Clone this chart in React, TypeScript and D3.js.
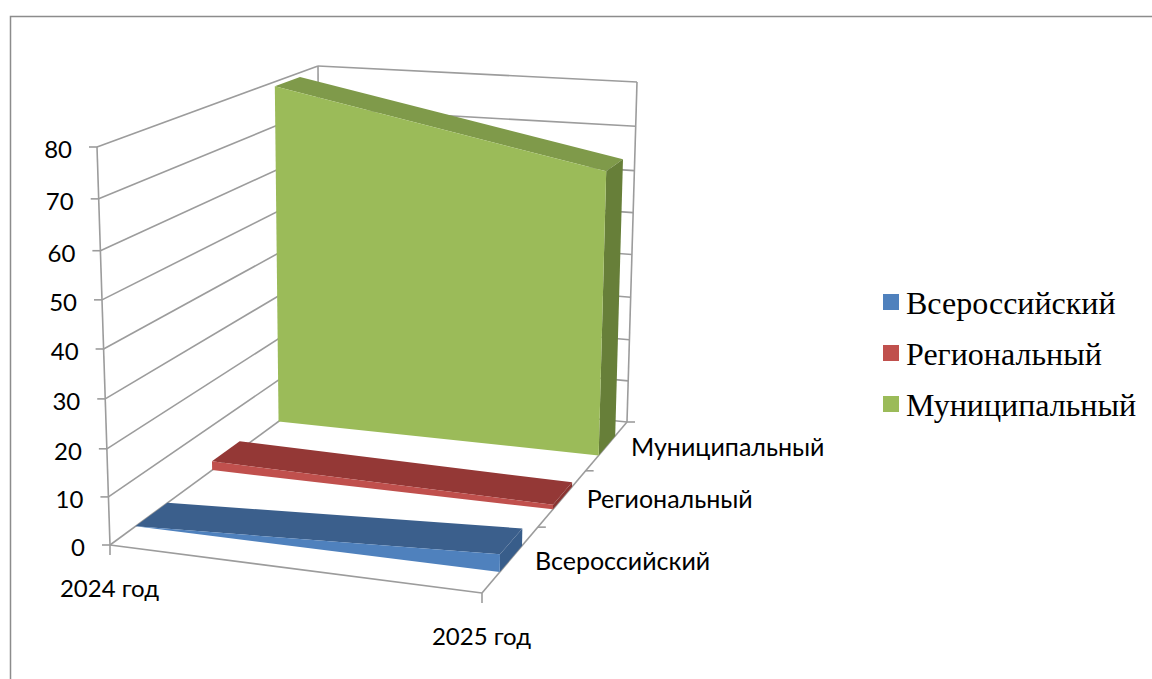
import React from 'react'
import * as d3 from 'd3'

const categories = ['2024 год', '2025 год']
const seriesNames = ['Всероссийский', 'Региональный', 'Муниципальный']
const vserossiyskiy = [0, 3.6]
const regionalny = [2, 1]
const municipalny = [79, 64.5]
const seriesValues = [vserossiyskiy, regionalny, municipalny]
const valueTicks = [0, 10, 20, 30, 40, 50, 60, 70, 80]

const frontColors = ['#4f81bd', '#c0504d', '#9bbb59']
const topColors = ['#3b5f8c', '#943836', '#7f9a4a']
const sideColors = ['#385d8a', '#8a3431', '#677f39']
const gridColor = '#9c9c9c'
const axisFont = 'Lato, "Open Sans", sans-serif'
const legendFont = '"Liberation Serif", serif'

type Pt = [number, number]

// maps the unit square onto a quad: (0,0) a, (1,0) b, (1,1) c, (0,1) d
function quadMap(a: Pt, b: Pt, c: Pt, d: Pt) {
  const dx1 = b[0] - c[0], dx2 = d[0] - c[0], sx = a[0] - b[0] + c[0] - d[0]
  const dy1 = b[1] - c[1], dy2 = d[1] - c[1], sy = a[1] - b[1] + c[1] - d[1]
  const den = dx1 * dy2 - dx2 * dy1
  const g = (sx * dy2 - dx2 * sy) / den
  const h = (dx1 * sy - sx * dy1) / den
  return (u: number, v: number): Pt => {
    const w = g * u + h * v + 1
    return [
      ((b[0] - a[0] + g * b[0]) * u + (d[0] - a[0] + h * d[0]) * v + a[0]) / w,
      ((b[1] - a[1] + g * b[1]) * u + (d[1] - a[1] + h * d[1]) * v + a[1]) / w,
    ]
  }
}

// floor and ceiling of the 3d box
const floor = quadMap([110, 545], [482, 593], [627, 422], [320, 391])
const ceiling = quadMap([97, 147], [488, 172], [637, 82], [318, 66])

const xScale = d3.scalePoint<string>().domain(categories).range([0, 1])
const zBand = d3.scaleBand<string>().domain(seriesNames).range([0, 1]).paddingInner(0.6).paddingOuter(0.3)
const zEdge = d3.scaleLinear().domain([0, seriesNames.length]).range([0, 1])
// the value axis stretches a little towards the top (perspective)
const vScale = d3.scaleLinear().domain([0, 20, 40, 60, 80]).range([0, 0.2417, 0.4925, 0.7394, 1])

function project(x: number, z: number, value: number): Pt {
  const b = floor(x, z)
  const t = ceiling(x, z)
  const k = vScale(value)
  return [b[0] + (t[0] - b[0]) * k, b[1] + (t[1] - b[1]) * k]
}

const poly = (pts: Pt[]) => d3.line()(pts) + 'Z'
const seg = (a: Pt, b: Pt) => d3.line()([a, b]) as string

export default function App() {
  const x0 = xScale(categories[0]) as number
  const x1 = xScale(categories[1]) as number

  return (
    <svg width={1152} height={679} style={{ position: 'absolute', left: 0, top: 0, background: '#fff' }}>
      {/* chart border, cut off by the picture on the right and bottom */}
      <path d="M10.5,679V16.5H1152" fill="none" stroke="#8c8c8c" strokeWidth={1.5} />

      {/* walls */}
      <g fill="none" stroke={gridColor} strokeWidth={1.6}>
        {valueTicks.map(v => (
          <g key={v}>
            <path d={seg(project(0, 0, v), project(0, 1, v))} />
            <path d={seg(project(0, 1, v), project(1, 1, v))} />
            <path d={seg(project(0, 0, v), [project(0, 0, v)[0] - 8, project(0, 0, v)[1]])} />
          </g>
        ))}
        <path d={seg(project(0, 0, 0), project(0, 0, 80))} />
        <path d={seg(project(0, 1, 0), project(0, 1, 80))} />
        <path d={seg(project(1, 1, 0), project(1, 1, 80))} />
        <path d={seg(project(0, 0, 0), project(1, 0, 0))} />
        <path d={seg(project(1, 0, 0), project(1, 1, 0))} />
        {categories.map(c => {
          const p = project(xScale(c) as number, 0, 0)
          return <path key={c} d={seg(p, [p[0], p[1] + 10])} />
        })}
        {d3.range(1, seriesNames.length + 1).map(i => {
          const p = project(1, zEdge(i), 0)
          return <path key={i} d={seg(p, [p[0] + 8, p[1]])} />
        })}
      </g>

      {/* series, back to front */}
      {seriesNames.map((name, i) => ({ name, i })).reverse().map(({ name, i }) => {
        const [a, b] = seriesValues[i]
        const zf = zBand(name) as number
        const zb = zf + zBand.bandwidth()
        return (
          <g key={name}>
            <path d={poly([project(x0, zf, a), project(x1, zf, b), project(x1, zb, b), project(x0, zb, a)])} fill={topColors[i]} />
            <path d={poly([project(x1, zf, 0), project(x1, zf, b), project(x1, zb, b), project(x1, zb, 0)])} fill={sideColors[i]} />
            <path d={poly([project(x0, zf, 0), project(x0, zf, a), project(x1, zf, b), project(x1, zf, 0)])} fill={frontColors[i]} />
          </g>
        )
      })}

      {/* axis labels */}
      <g fontFamily={axisFont} fontSize={24} fill="#000">
        {valueTicks.map(v => {
          const p = project(0, 0, v)
          return <text key={v} x={p[0] - 25} y={p[1] + 11} textAnchor="end">{v}</text>
        })}
        {categories.map(c => {
          const p = project(xScale(c) as number, 0, 0)
          return <text key={c} x={p[0] - 0.5} y={p[1] + 52} textAnchor="middle">{c}</text>
        })}
        {seriesNames.map((name, i) => {
          const p = project(1, (zBand(name) as number) + zBand.bandwidth() / 2, 0)
          return <text key={name} x={p[0] + 24} y={p[1] + 11 - i / 2} fontSize={25}>{name}</text>
        })}
      </g>

      {/* legend */}
      <g fontFamily={legendFont} fontSize={32} fill="#000">
        {seriesNames.map((name, i) => (
          <g key={name} transform={`translate(883,${294 + i * 51})`}>
            <rect width={16} height={16} fill={frontColors[i]} />
            <text x={23} y={20}>{name}</text>
          </g>
        ))}
      </g>
    </svg>
  )
}
